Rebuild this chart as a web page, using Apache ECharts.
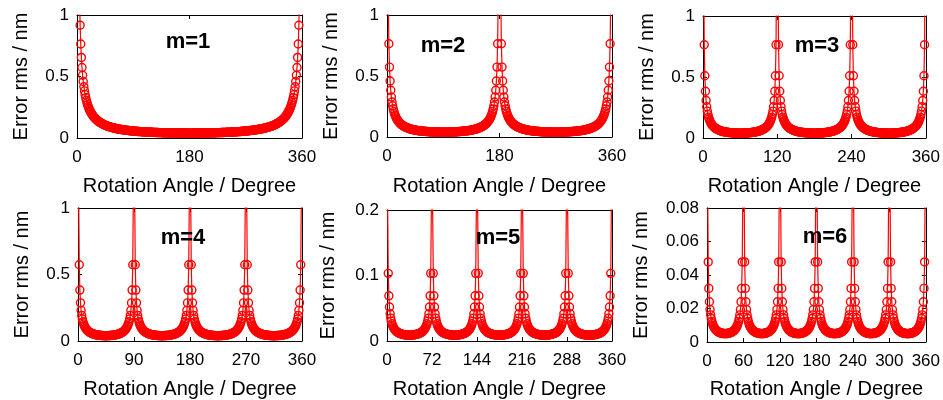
<!DOCTYPE html>
<html><head><meta charset="utf-8">
<script src="https://cdn.jsdelivr.net/npm/echarts@6/dist/echarts.min.js"></script>
<style>html,body{margin:0;padding:0;background:#fff}#c{width:943px;height:400px}</style>
</head><body><div id="c"></div><script>
// Panel titles
const titles = ['m=1', 'm=2', 'm=3', 'm=4', 'm=5', 'm=6'];
// Period order m of each panel
const orders = [1, 2, 3, 4, 5, 6];
// Tick labels
const xTicks1 = [0, 180, 360];
const xTicks2 = [0, 180, 360];
const xTicks3 = [0, 120, 240, 360];
const xTicks4 = [0, 90, 180, 270, 360];
const xTicks5 = [0, 72, 144, 216, 288, 360];
const xTicks6 = [0, 60, 120, 180, 240, 300, 360];
const yTicks1 = [0, 0.5, 1];
const yTicks2 = [0, 0.5, 1];
const yTicks3 = [0, 0.5, 1];
const yTicks4 = [0, 0.5, 1];
const yTicks5 = [0, 0.1, 0.2];
const yTicks6 = [0, 0.02, 0.04, 0.06, 0.08];
// Error rms (nm), indexed by angular distance (deg) from the nearest peak
const profile1 = [50, 4.58, 2.29, 1.53, 1.146, 0.917, 0.764, 0.655, 0.573, 0.510, 0.459,
  0.417, 0.383, 0.353, 0.328, 0.307, 0.287, 0.271, 0.256, 0.242, 0.230,
  0.220, 0.210, 0.201, 0.192, 0.185, 0.178, 0.171, 0.165, 0.160, 0.155,
  0.150, 0.145, 0.141, 0.137, 0.133, 0.129, 0.126, 0.123, 0.120, 0.117,
  0.114, 0.112, 0.109, 0.107, 0.1045, 0.102, 0.100, 0.098, 0.0965, 0.0946,
  0.0929, 0.0912, 0.0896, 0.0881, 0.0866, 0.0852, 0.0838, 0.0825, 0.0812, 0.0800,
  0.0788, 0.0777, 0.0766, 0.0755, 0.0744, 0.0734, 0.0725, 0.0715, 0.0706, 0.0697,
  0.0689, 0.0681, 0.0672, 0.0665, 0.0657, 0.0650, 0.0643, 0.0636, 0.0629, 0.0622,
  0.0616, 0.0610, 0.0604, 0.0598, 0.0592, 0.0587, 0.0581, 0.0576, 0.0571, 0.0566,
  0.0561, 0.0556, 0.0551, 0.0547, 0.0543, 0.0538, 0.0534, 0.0530, 0.0526, 0.0522,
  0.0518, 0.0515, 0.0511, 0.0508, 0.0504, 0.0501, 0.0498, 0.0494, 0.0491, 0.0488,
  0.0485, 0.0482, 0.0480, 0.0477, 0.0474, 0.0472, 0.0469, 0.0467, 0.0464, 0.0462,
  0.0460, 0.0457, 0.0455, 0.0453, 0.0451, 0.0449, 0.0447, 0.0445, 0.0443, 0.0441,
  0.0440, 0.0438, 0.0436, 0.0435, 0.0433, 0.0431, 0.0430, 0.0428, 0.0427, 0.0426,
  0.0424, 0.0423, 0.0422, 0.0421, 0.0419, 0.0418, 0.0417, 0.0416, 0.0415, 0.0414,
  0.0413, 0.0412, 0.0411, 0.0411, 0.0410, 0.0409, 0.0408, 0.0407, 0.0407, 0.0406,
  0.0406, 0.0405, 0.0404, 0.0404, 0.0403, 0.0403, 0.0403, 0.0402, 0.0402, 0.0402,
  0.0401, 0.0401, 0.0401, 0.0401, 0.0400, 0.0400, 0.0400, 0.0400, 0.0400, 0.0400];
const profile2 = [50, 2.29, 1.146, 0.764, 0.573, 0.459, 0.383, 0.328, 0.287, 0.256, 0.230,
  0.210, 0.192, 0.178, 0.165, 0.155, 0.145, 0.137, 0.129, 0.123, 0.117,
  0.112, 0.107, 0.102, 0.098, 0.0946, 0.0912, 0.0881, 0.0852, 0.0825, 0.0800,
  0.0777, 0.0755, 0.0734, 0.0715, 0.0697, 0.0681, 0.0665, 0.0650, 0.0636, 0.0622,
  0.0610, 0.0598, 0.0587, 0.0576, 0.0566, 0.0556, 0.0547, 0.0538, 0.0530, 0.0522,
  0.0515, 0.0508, 0.0501, 0.0494, 0.0488, 0.0482, 0.0477, 0.0472, 0.0467, 0.0462,
  0.0457, 0.0453, 0.0449, 0.0445, 0.0441, 0.0438, 0.0435, 0.0431, 0.0428, 0.0426,
  0.0423, 0.0421, 0.0418, 0.0416, 0.0414, 0.0412, 0.0411, 0.0409, 0.0407, 0.0406,
  0.0405, 0.0404, 0.0403, 0.0402, 0.0402, 0.0401, 0.0401, 0.0400, 0.0400, 0.0400];
const profile3 = [50, 1.528, 0.764, 0.510, 0.383, 0.307, 0.256, 0.220, 0.192, 0.171, 0.155,
  0.141, 0.129, 0.120, 0.112, 0.1045, 0.098, 0.0929, 0.0881, 0.0838, 0.0800,
  0.0766, 0.0734, 0.0706, 0.0681, 0.0657, 0.0636, 0.0616, 0.0598, 0.0581, 0.0566,
  0.0551, 0.0538, 0.0526, 0.0515, 0.0504, 0.0494, 0.0485, 0.0477, 0.0469, 0.0462,
  0.0455, 0.0449, 0.0443, 0.0438, 0.0433, 0.0428, 0.0424, 0.0421, 0.0417, 0.0414,
  0.0411, 0.0409, 0.0407, 0.0405, 0.0403, 0.0402, 0.0401, 0.0401, 0.0400, 0.0400];
const profile4 = [50, 1.146, 0.573, 0.383, 0.287, 0.230, 0.192, 0.165, 0.145, 0.129, 0.117,
  0.107, 0.098, 0.0912, 0.0852, 0.0800, 0.0755, 0.0715, 0.0681, 0.0650, 0.0622,
  0.0598, 0.0576, 0.0556, 0.0538, 0.0522, 0.0508, 0.0494, 0.0482, 0.0472, 0.0462,
  0.0453, 0.0445, 0.0438, 0.0431, 0.0426, 0.0421, 0.0416, 0.0412, 0.0409, 0.0406,
  0.0404, 0.0402, 0.0401, 0.0400, 0.0400];
const profile5 = [5, 0.2063, 0.1033, 0.0690, 0.0518, 0.0416, 0.0348, 0.0299, 0.0263, 0.0235, 0.0213,
  0.0195, 0.0180, 0.0168, 0.0157, 0.0148, 0.0140, 0.0133, 0.0127, 0.0122, 0.0117,
  0.0113, 0.0110, 0.0107, 0.0104, 0.0101, 0.0099, 0.0097, 0.0096, 0.0094, 0.0093,
  0.0092, 0.0091, 0.0091, 0.0090, 0.0090, 0.0090];
const profile6 = [2, 0.0955, 0.0478, 0.0320, 0.0240, 0.0193, 0.0162, 0.0140, 0.0123, 0.0110, 0.0100,
  0.00918, 0.00851, 0.00795, 0.00747, 0.00707, 0.00673, 0.00643, 0.00618, 0.00596, 0.00577,
  0.00561, 0.00547, 0.00536, 0.00526, 0.00518, 0.00511, 0.00506, 0.00503, 0.00501, 0.00500];

const xTicks = [xTicks1, xTicks2, xTicks3, xTicks4, xTicks5, xTicks6];
const yTicks = [yTicks1, yTicks2, yTicks3, yTicks4, yTicks5, yTicks6];
const profiles = [profile1, profile2, profile3, profile4, profile5, profile6];

// layout (px)
const grids = [
  {left: 77, top: 15, width: 225, height: 123},
  {left: 387, top: 15, width: 225, height: 122},
  {left: 703, top: 16, width: 224, height: 122},
  {left: 78, top: 208, width: 224, height: 135},
  {left: 387, top: 210, width: 225, height: 133},
  {left: 707, top: 208, width: 225, height: 137}
];
const titlePos = [[188, 42], [443, 46], [817, 46], [183, 238], [498, 238], [825, 237]];
const yNameGap = [46, 46, 46, 46, 49, 56];
const xNameGap = [38, 39, 38, 38, 38, 37];

const FONT = '"Liberation Sans", Arial, sans-serif';
const xAxis = [], yAxis = [], series = [], graphic = [];

function buildSeries(prof, m) {
  const P = 360 / m;
  const out = [];
  for (let t = 0; t <= 360; t++) {
    const r = t % P;
    const d = Math.round(Math.min(r, P - r));
    out.push([t, prof[d]]);
  }
  return out;
}

for (let i = 0; i < 6; i++) {
  const xt = xTicks[i], yt = yTicks[i];
  const xr = {min: xt[0], max: xt[xt.length - 1], interval: xt[1] - xt[0]};
  const yr = {min: yt[0], max: yt[yt.length - 1], interval: +(yt[1] - yt[0]).toFixed(6)};
  const line = {show: true, onZero: false, lineStyle: {color: '#000', width: 1}};
  const tick = {show: true, inside: true, length: 4, lineStyle: {color: '#000', width: 1}};
  xAxis.push(Object.assign({
    gridIndex: i, type: 'value', position: 'bottom',
    name: 'Rotation Angle / Degree', nameLocation: 'middle', nameGap: xNameGap[i],
    nameTextStyle: {fontSize: 20, color: '#000', fontFamily: FONT},
    axisLine: line, axisTick: tick,
    axisLabel: {fontSize: 17, color: '#000', margin: 11, fontFamily: FONT, showMinLabel: true, showMaxLabel: true},
    splitLine: {show: false}
  }, xr));
  xAxis.push(Object.assign({
    gridIndex: i, type: 'value', position: 'top',
    axisLine: line, axisTick: tick, axisLabel: {show: false}, splitLine: {show: false}
  }, xr));
  yAxis.push(Object.assign({
    gridIndex: i, type: 'value', position: 'left',
    name: 'Error rms / nm', nameLocation: 'middle', nameGap: yNameGap[i],
    nameTextStyle: {fontSize: 20, color: '#000', fontFamily: FONT},
    axisLine: line, axisTick: tick,
    axisLabel: {fontSize: 17, color: '#000', margin: 8, fontFamily: FONT},
    splitLine: {show: false}
  }, yr));
  yAxis.push(Object.assign({
    gridIndex: i, type: 'value', position: 'right',
    axisLine: line, axisTick: tick, axisLabel: {show: false}, splitLine: {show: false}
  }, yr));
  series.push({
    type: 'line', xAxisIndex: 2 * i, yAxisIndex: 2 * i,
    data: buildSeries(profiles[i], orders[i]),
    symbol: 'circle', symbolSize: 8, showSymbol: true, clip: true,
    lineStyle: {color: '#ff0000', width: 1.2},
    itemStyle: {color: 'rgba(255,255,255,0)', borderColor: '#ff0000', borderWidth: 1.4},
    emphasis: {disabled: true}, animation: false, silent: true, z: 2
  });
  graphic.push({
    type: 'text', x: titlePos[i][0], y: titlePos[i][1], z: 100,
    style: {text: titles[i], font: 'bold 22px ' + FONT, fill: '#000', align: 'center', verticalAlign: 'middle'}
  });
}

const chart = echarts.init(document.getElementById('c'), null, {renderer: 'canvas'});
chart.setOption({
  backgroundColor: '#fff',
  animation: false,
  grid: grids,
  xAxis: xAxis, yAxis: yAxis, series: series, graphic: graphic
});
</script></body></html>
